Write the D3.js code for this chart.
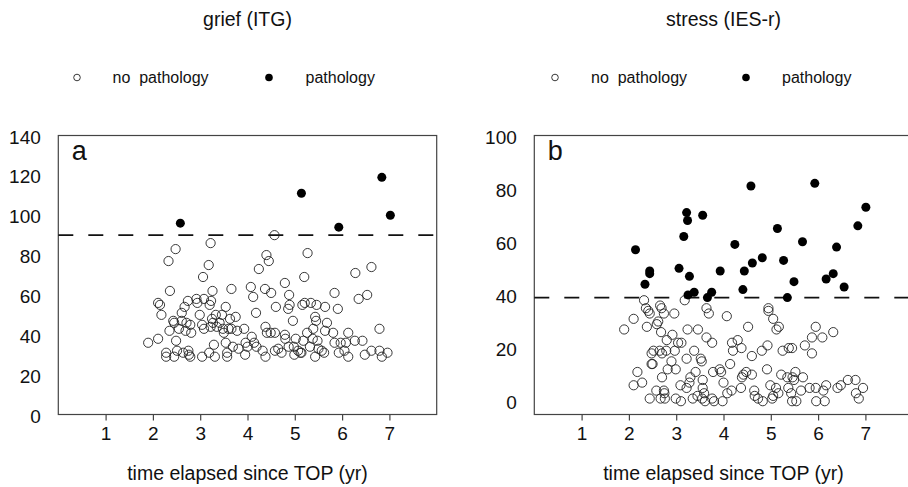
<!DOCTYPE html>
<html><head><meta charset="utf-8">
<script src="https://cdn.jsdelivr.net/npm/d3@7"></script>
<style>body{margin:0;background:#fff}svg{display:block}text{font-family:"Liberation Sans",Arial,sans-serif;fill:#111}</style>
</head><body>
<svg id="c" width="908" height="487"></svg>
<script>
// ---- data ----
const xTicks = [1,2,3,4,5,6,7];
const griefTicks = [0,20,40,60,80,100,120,140];
const stressTicks = [0,20,40,60,80,100];
const griefCut = 90, stressCut = 39;

const griefNoX = [1.90,2.11,2.11,2.15,2.18,2.28,2.28,2.33,2.36,2.35,2.43,2.45,2.48,2.49,2.51,2.45,2.55,2.61,2.61,2.67,2.69,2.71,2.74,2.75,2.76,2.79,2.81,2.64,2.79,2.92,2.94,2.99,3.06,3.04,3.08,3.04,3.08,3.18,3.22,3.23,3.26,3.20,3.25,3.27,3.22,3.29,3.31,3.19,3.33,3.35,3.41,3.46,3.48,3.50,3.54,3.54,3.57,3.57,3.60,3.63,3.66,3.66,3.69,3.75,3.78,3.81,3.93,3.95,3.96,4.00,4.07,4.12,4.09,4.14,4.18,4.19,4.24,4.32,4.37,4.38,4.40,4.41,4.45,4.38,4.50,4.49,4.57,4.60,4.58,4.58,4.65,4.72,4.79,4.79,4.80,4.88,4.89,4.86,4.87,4.96,4.98,5.02,4.99,5.07,5.12,5.16,5.20,5.21,5.18,5.14,5.26,5.27,5.32,5.34,5.39,5.38,5.43,5.45,5.46,5.48,5.43,5.50,5.57,5.62,5.64,5.64,5.68,5.81,5.84,5.84,5.91,5.93,5.97,6.05,6.08,6.13,6.13,6.28,6.27,6.35,6.43,6.48,6.53,6.62,6.62,6.79,6.79,6.84,6.96];
const griefNoY = [36,38,56,55,50,31,29,77,62,42,47,46,83,37,32,29,43,47,51,54,42,46,57,32,30,45,41,31,29,58,56,50,69,45,43,29,58,75,86,57,62,55,48,46,44,35,29,31,50,44,46,50,43,41,54,36,31,29,43,48,63,43,34,49,42,33,43,30,36,34,64,59,39,36,51,34,73,32,63,44,80,41,77,29,61,41,90,54,41,32,33,31,66,40,38,60,55,53,34,47,34,38,30,32,31,55,69,56,37,31,41,81,34,56,43,38,49,47,55,37,29,33,32,31,54,42,46,41,61,36,53,31,36,32,36,41,29,71,37,58,37,30,60,74,32,32,43,29,31];
const griefPathX = [2.58,5.14,5.93,6.84,7.02];
const griefPathY = [96,111,94,119,100];

const stressNoX = [1.90,2.10,2.18,2.10,2.28,2.32,2.36,2.38,2.41,2.44,2.44,2.48,2.50,2.48,2.52,2.58,2.59,2.62,2.65,2.66,2.69,2.68,2.70,2.67,2.70,2.74,2.74,2.76,2.79,2.80,2.82,2.75,2.90,2.92,2.96,2.97,2.99,3.04,2.99,3.09,3.11,3.10,3.18,3.22,3.24,3.22,3.28,3.30,3.35,3.38,3.41,3.46,3.45,3.52,3.54,3.56,3.56,3.55,3.59,3.61,3.64,3.64,3.69,3.76,3.76,3.80,3.78,3.92,3.95,3.98,4.00,4.07,4.08,4.14,4.17,4.18,4.20,4.30,4.37,4.38,4.39,4.42,4.48,4.52,4.60,4.60,4.65,4.66,4.73,4.81,4.83,4.92,4.93,4.95,4.95,4.99,5.03,5.05,5.05,5.11,5.12,5.17,5.16,5.22,5.25,5.35,5.37,5.38,5.45,5.43,5.46,5.49,5.52,5.45,5.54,5.64,5.68,5.72,5.82,5.87,5.87,5.95,5.95,5.96,6.09,6.11,6.14,6.17,6.32,6.41,6.48,6.63,6.79,6.80,6.86,6.95];
const stressNoY = [27,31,11,6,7,38,35,28,34,33,1,14,14,18,19,4,29,30,19,36,35,26,18,1,9,33,4,1,19,23,12,3,15,25,33,19,12,22,1,6,22,0,38,16,27,5,7,9,1,19,11,27,2,16,15,8,5,1,3,0,35,24,33,22,1,0,11,12,11,0,7,32,3,14,4,22,19,23,5,20,9,10,11,28,10,17,4,2,1,19,0,12,21,35,34,6,1,31,2,5,27,28,3,10,19,9,5,20,20,3,9,8,11,0,0,4,9,21,5,24,18,28,5,0,24,4,0,6,26,5,6,8,8,3,1,5];
const stressPathX = [2.14,2.34,2.44,2.44,3.06,3.16,3.22,3.24,3.28,3.25,3.38,3.56,3.66,3.75,3.93,4.24,4.41,4.44,4.58,4.61,4.82,5.14,5.27,5.35,5.49,5.67,5.93,6.17,6.32,6.39,6.55,6.84,7.01];
const stressPathY = [57,44,49,48,50,62,71,68,47,40,41,70,39,41,49,59,42,49,81,52,54,65,53,39,45,60,82,46,48,58,43,66,73];

const panels = [
  {title:"grief (ITG)", letter:"a", left:58.3, yDomain:[0,140], yTicks:griefTicks, cut:griefCut,
   noX:griefNoX, noY:griefNoY, pX:griefPathX, pY:griefPathY,
   leg:{o:77, ot:112.5, f:269, ft:305.5}},
  {title:"stress (IES-r)", letter:"b", left:534.3, yDomain:[-5,100], yTicks:stressTicks, cut:stressCut,
   noX:stressNoX, noY:stressNoY, pX:stressPathX, pY:stressPathY,
   leg:{o:555, ot:591, f:746, ft:782}}
];

const svg = d3.select("#c");
const boxTop = 135.5, boxBottom = 414.5, boxW = 378.4;

panels.forEach(p => {
  const x = d3.scaleLinear().domain([0,8]).range([p.left, p.left + boxW]);
  const y = d3.scaleLinear().domain(p.yDomain).range([boxBottom, boxTop]);
  const g = svg.append("g");
  const cx = p.left + boxW/2;

  // title
  g.append("text").attr("x", cx).attr("y", 26).attr("text-anchor","middle")
    .style("font-size","19.5px").text(p.title);

  // legend
  g.append("circle").attr("cx", p.leg.o).attr("cy", 77.5).attr("r", 3.3)
    .attr("fill","none").attr("stroke","#222").attr("stroke-width",0.9);
  g.append("text").attr("x", p.leg.ot).attr("y", 83).style("font-size","16px")
    .style("white-space","pre").text("no  pathology");
  g.append("circle").attr("cx", p.leg.f).attr("cy", 77.5).attr("r", 3.8).attr("fill","#000");
  g.append("text").attr("x", p.leg.ft).attr("y", 83).style("font-size","16px").text("pathology");

  // box
  g.append("rect").attr("x", p.left).attr("y", boxTop).attr("width", boxW).attr("height", boxBottom-boxTop)
    .attr("fill","none").attr("stroke","#444").attr("stroke-width",1.2);

  // x axis
  const xa = g.append("g").attr("transform", `translate(0,${boxBottom})`)
    .call(d3.axisBottom(x).tickValues(xTicks).tickSize(6).tickPadding(6).tickFormat(d3.format("d")));
  xa.select(".domain").remove();
  xa.selectAll("line").attr("stroke","#444").attr("stroke-width",1.2);
  xa.selectAll("text").style("font-size","19px").attr("fill","#111")
    .style("font-family","'Liberation Sans',Arial,sans-serif");

  // y axis (labels only)
  const ya = g.append("g").attr("transform", `translate(${p.left},0)`)
    .call(d3.axisLeft(y).tickValues(p.yTicks).tickSize(0).tickPadding(17.5).tickFormat(d3.format("d")));
  ya.select(".domain").remove();
  ya.selectAll("line").remove();
  ya.selectAll("text").style("font-size","19px").attr("fill","#111").attr("dy","0.4em")
    .style("font-family","'Liberation Sans',Arial,sans-serif");

  // x label
  g.append("text").attr("x", cx).attr("y", 480).attr("text-anchor","middle")
    .style("font-size","19.5px").text("time elapsed since TOP (yr)");

  // panel letter
  g.append("text").attr("x", p.left + 13.5).attr("y", 160).style("font-size","27px").text(p.letter);

  // threshold
  g.append("line").attr("x1", p.left).attr("x2", p.left + boxW)
    .attr("y1", y(p.cut)).attr("y2", y(p.cut))
    .attr("stroke","#111").attr("stroke-width",1.8).attr("stroke-dasharray","15,15");

  // points
  g.append("g").selectAll("circle").data(d3.range(p.noX.length)).join("circle")
    .attr("cx", i => x(p.noX[i])).attr("cy", i => y(p.noY[i])).attr("r", 4.6)
    .attr("fill","none").attr("stroke","#222").attr("stroke-width",0.9);
  g.append("g").selectAll("circle").data(d3.range(p.pX.length)).join("circle")
    .attr("cx", i => x(p.pX[i])).attr("cy", i => y(p.pY[i])).attr("r", 4.5)
    .attr("fill","#000");
});
</script>
</body></html>
